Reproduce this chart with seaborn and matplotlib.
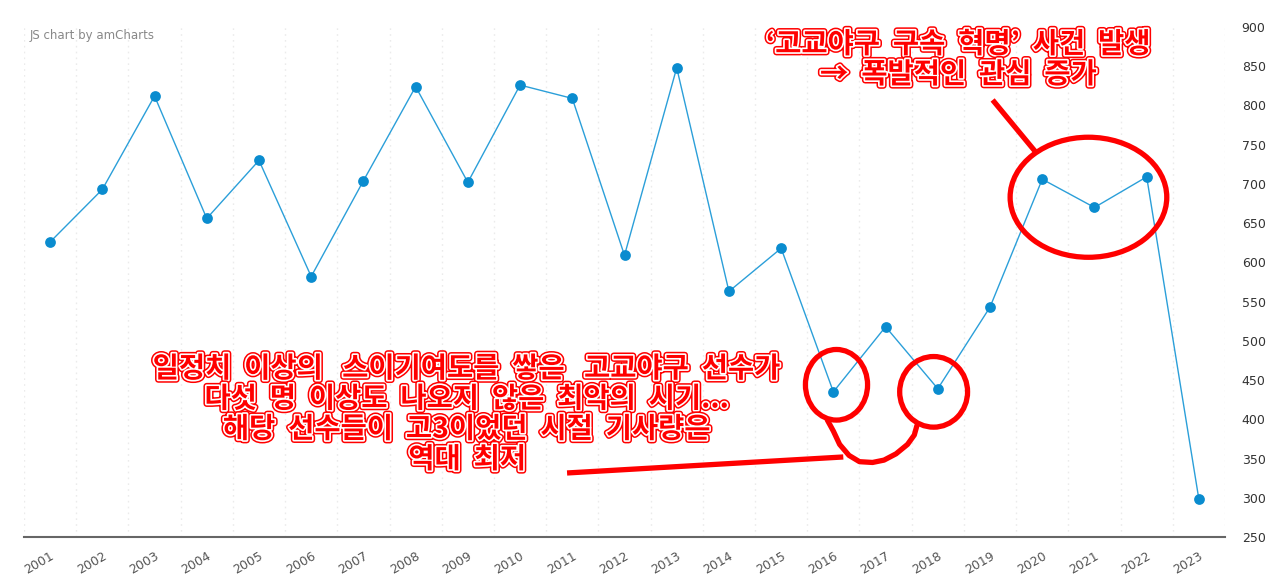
import matplotlib

matplotlib.use("Agg")
import matplotlib.pyplot as plt
import matplotlib.patheffects as pe
import numpy as np
import pandas as pd
import seaborn as sns
from matplotlib.patches import Ellipse
from matplotlib.ticker import FixedLocator

# data
years = list(range(2001, 2024))
articles = [626, 693, 812, 656, 730, 582, 704, 824, 702, 826, 809, 609,
            848, 563, 618, 435, 518, 439, 543, 706, 670, 709, 298]
y_ticks = list(range(250, 901, 50))

top_note = "‘고교야구  구속  혁명’  사건  발생\n→  폭발적인  관심  증가"
bottom_note = ("일정치  이상의   스이기여도를  쌓은   고교야구  선수가\n"
               "다섯  명  이상도  나오지  않은  최악의  시기...\n"
               "해당  선수들이  고3이었던  시절  기사량은\n"
               "역대  최저")

LINE = "#2b9fd9"
DOT = "#0a8ccf"
RED = "#ff0000"

sns.set_style("white")
plt.rcParams["font.family"] = ["DejaVu Sans"]

frame = pd.DataFrame({"year": years, "articles": articles})

fig = plt.figure(figsize=(12.8, 5.78), dpi=100)
ax = fig.add_axes([24 / 1280, 41 / 578, 1201 / 1280, 510 / 578])

sns.lineplot(data=frame, x="year", y="articles", color=LINE, linewidth=1.0, ax=ax)
sns.scatterplot(data=frame, x="year", y="articles", color=DOT, s=60,
                linewidth=0, zorder=3, ax=ax)

ax.set_xlim(2000.5, 2023.5)
ax.set_ylim(250, 900)
ax.set_xlabel("")
ax.set_ylabel("")

ax.set_xticks(years)
ax.set_xticklabels([str(y) for y in years], rotation=30, ha="right",
                   rotation_mode="anchor", fontsize=9, color="#555555")
ax.xaxis.set_minor_locator(FixedLocator(np.arange(2000.5, 2024, 1.0)))
ax.grid(which="minor", axis="x", color="#ebebeb", linestyle=(0, (1.2, 3)), linewidth=1.0)
ax.grid(which="major", visible=False)
ax.tick_params(axis="x", which="major", length=5, width=1, color="#666666", pad=4)
ax.tick_params(axis="x", which="minor", length=0)

ax.yaxis.tick_right()
ax.set_yticks(y_ticks)
ax.set_yticklabels([str(v) for v in y_ticks], fontsize=9, color="#333333")
ax.tick_params(axis="y", length=0, pad=12)

for side in ["left", "right", "top"]:
    ax.spines[side].set_visible(False)
ax.spines["bottom"].set_color("#666666")
ax.spines["bottom"].set_linewidth(1.5)

fig.text(30 / 1280, 1 - 35 / 578, "JS chart by amCharts", fontsize=8.5,
         color="#888888", va="center", ha="left")

# red hand-drawn annotations
ax.add_patch(Ellipse((2020.885, 683), 3.0, 153, fill=False, edgecolor=RED, linewidth=3.8, zorder=4))
ax.add_patch(Ellipse((2016.06, 444), 1.19, 90, fill=False, edgecolor=RED, linewidth=3.8, zorder=4))
ax.add_patch(Ellipse((2017.92, 435), 1.30, 90, fill=False, edgecolor=RED, linewidth=3.8, zorder=4))
ax.plot([2019.05, 2019.87], [807, 741], color=RED, linewidth=3.8, solid_capstyle="butt", zorder=4)
ax.plot([2010.90, 2016.19], [331.6, 352.0], color=RED, linewidth=3.8, solid_capstyle="butt", zorder=4)
curl_x = [2015.885, 2016.0, 2016.12, 2016.3, 2016.5, 2016.75, 2016.97, 2017.2, 2017.42, 2017.55, 2017.6]
curl_y = [399, 385, 368, 354, 346, 345, 348, 356, 368, 380, 392]
ax.plot(curl_x, curl_y, color=RED, linewidth=3.8, solid_joinstyle="round",
        solid_capstyle="round", zorder=4)

outline = [pe.Stroke(linewidth=4.6, foreground=RED), pe.Stroke(linewidth=2.4, foreground="white"), pe.Normal()]
note_font = ["Noto Sans CJK KR", "DejaVu Sans"]
ax.text(2018.4, 858, top_note, ha="center", va="center", fontsize=20.5, fontweight="bold",
        color=RED, family=note_font, linespacing=1.1, path_effects=outline, zorder=5)
ax.text(2008.99, 406, bottom_note, ha="center", va="center", fontsize=20.5, fontweight="bold",
        color=RED, family=note_font, linespacing=1.1, path_effects=outline, zorder=5)

fig.savefig("out.png", dpi=100)
